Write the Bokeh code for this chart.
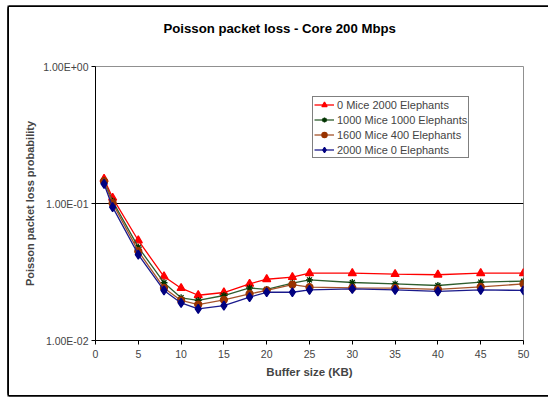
from bokeh.plotting import figure
from bokeh.models import Legend, LegendItem, FixedTicker, Range1d, Title
from bokeh.embed import file_html
from bokeh.resources import INLINE

buffer_kb = [1, 2, 5, 8, 10, 12, 15, 18, 20, 23, 25, 30, 35, 40, 45, 50]
mice0_eleph2000 = [0.151, 0.110, 0.0537, 0.0293, 0.0241, 0.0214, 0.0224, 0.0259,
                   0.0280, 0.0290, 0.0310, 0.0310, 0.0305, 0.0302, 0.0310, 0.0310]
mice1000_eleph1000 = [0.147, 0.104, 0.0480, 0.0264, 0.0205, 0.0196, 0.0213, 0.0242,
                      0.0236, 0.0262, 0.0277, 0.0265, 0.0259, 0.0252, 0.0267, 0.0271]
mice1600_eleph400 = [0.145, 0.1005, 0.0449, 0.0242, 0.0196, 0.0183, 0.0198, 0.0219,
                     0.0232, 0.0256, 0.0245, 0.0242, 0.0241, 0.0236, 0.0246, 0.0259]
mice2000_eleph0 = [0.139, 0.094, 0.0424, 0.0232, 0.0188, 0.0170, 0.0180, 0.0207,
                   0.0225, 0.0225, 0.0234, 0.0238, 0.0234, 0.0228, 0.0234, 0.0232]

series_names = ["0 Mice 2000 Elephants", "1000 Mice 1000 Elephants",
                "1600 Mice 400 Elephants", "2000 Mice 0 Elephants"]
x_ticks = [0, 5, 10, 15, 20, 25, 30, 35, 40, 45, 50]
y_ticks = [0.01, 0.1, 1.0]
y_tick_labels = ["1.00E-02", "1.00E-01", "1.00E+00"]

title_text = "Poisson packet loss - Core 200 Mbps"
x_title = "Buffer size (KB)"
y_title = "Poisson packet loss probability"

# figure placed at (OX, OY) inside the window, framed on left/top/bottom
OX, OY = 9, 7
W, H = 542, 388
# plot-area edges in window pixels
FL, FR, FT, FB = 95, 523, 66, 340

p = figure(width=W, height=H, output_backend="svg", toolbar_location=None,
           y_axis_type="log", x_range=Range1d(0, 50), y_range=Range1d(0.01, 1),
           min_border_left=FL - OX, min_border_right=OX + W - FR,
           min_border_top=FT - OY, min_border_bottom=OY + H - FB)
p.styles = {"margin-left": f"{OX}px", "margin-top": f"{OY}px",
            "box-shadow": "-1.5px 0 0 0 black, 0 -1.5px 0 0 black, "
                          "0 1.5px 0 0 black, -1.5px -1.5px 0 0 black, -1.5px 1.5px 0 0 black",
            "clip-path": "inset(-3px 3px -3px -3px)"}
p.background_fill_color = "white"
p.border_fill_color = "white"
p.outline_line_color = "#909090"
p.outline_line_width = 1

font = "Liberation Sans"

# blank spacer between the plot area and the title
p.add_layout(Title(text=" ", text_font=font, text_font_size="13px", standoff=14), "above")

# title
p.title.text = title_text
p.title.align = "left"
p.title.offset = 163 - FL
p.title.vertical_align = "bottom"
p.title.standoff = 0
p.title.text_font = font
p.title.text_font_size = "13.2px"
p.title.text_font_style = "bold"
p.title.text_color = "black"

# axes
p.xaxis.ticker = FixedTicker(ticks=x_ticks)
p.xaxis.major_tick_in = 0
p.xaxis.major_tick_out = 4
p.xaxis.minor_tick_line_color = None
p.xaxis.major_label_text_font = font
p.xaxis.major_label_text_font_size = "10.5px"
p.xaxis.major_label_standoff = 5
p.xaxis.axis_line_color = "black"
p.xaxis.major_tick_line_color = "black"
p.xaxis.axis_label = x_title
p.xaxis.axis_label_text_font = font
p.xaxis.axis_label_text_font_size = "11.5px"
p.xaxis.axis_label_text_font_style = "bold"
p.xaxis.axis_label_standoff = 5

p.yaxis.ticker = FixedTicker(ticks=y_ticks)
p.yaxis.major_label_overrides = {t: s for t, s in zip(y_ticks, y_tick_labels)}
p.yaxis.major_tick_in = 0
p.yaxis.major_tick_out = 4
p.yaxis.minor_tick_line_color = None
p.yaxis.major_label_text_font = font
p.yaxis.major_label_text_font_size = "10.5px"
p.yaxis.major_label_standoff = 3
p.yaxis.axis_line_color = "black"
p.yaxis.major_tick_line_color = "black"
p.yaxis.axis_label = y_title
p.yaxis.axis_label_text_font = font
p.yaxis.axis_label_text_font_size = "11px"
p.yaxis.axis_label_text_font_style = "bold"
p.yaxis.axis_label_standoff = 4

p.xgrid.grid_line_color = None
p.ygrid.ticker = FixedTicker(ticks=y_ticks)
p.ygrid.grid_line_color = "black"
p.ygrid.grid_line_width = 1
p.ygrid.grid_line_alpha = 1

styles = [
    dict(line="#FF0000", marker="triangle", mcolor="#FF0000", size=8),
    dict(line="#2E5E2E", marker="asterisk", mcolor="#003300", size=7),
    dict(line="#A5532A", marker="circle", mcolor="#993300", size=7),
    dict(line="#1A1A8C", marker="diamond", mcolor="#000080", size=9),
]
all_series = [mice0_eleph2000, mice1000_eleph1000, mice1600_eleph400, mice2000_eleph0]

items = []
for name, ys, st in zip(series_names, all_series, styles):
    r1 = p.line(buffer_kb, ys, line_color=st["line"], line_width=1.3)
    r2 = p.scatter(buffer_kb, ys, marker=st["marker"], size=st["size"],
                   fill_color=st["mcolor"], line_color=st["mcolor"], line_width=1.3)
    items.append(LegendItem(label=name, renderers=[r1, r2]))

legend = Legend(items=items, location=(312 - FL, FB - 158), orientation="vertical",
                label_text_font=font, label_text_font_size="11px",
                label_height=13, glyph_height=13, glyph_width=20,
                label_standoff=3, spacing=2, padding=1, margin=0,
                border_line_color="black", border_line_width=1,
                background_fill_color="white", background_fill_alpha=1)
p.add_layout(legend, "center")

open("out.html", "w").write(file_html(p, INLINE))
